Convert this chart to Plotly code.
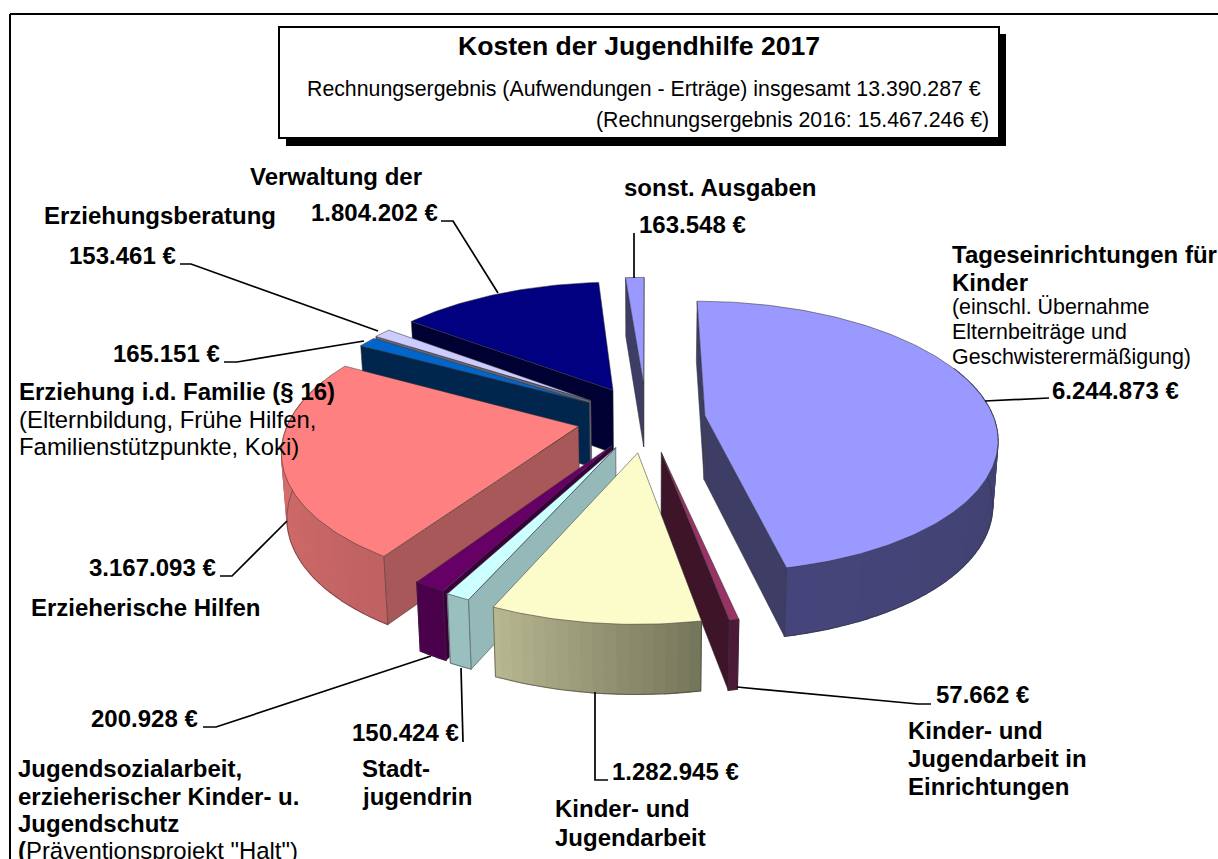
import numpy as np
import plotly.graph_objects as go

# ---- data ----
categories = ["Tageseinrichtungen", "Kinder-/Jugendarbeit in Einrichtungen", "Kinder- und Jugendarbeit",
              "Stadtjugendrin", "Jugendsozialarbeit", "Erzieherische Hilfen",
              "Erziehung i.d. Familie", "Erziehungsberatung", "Verwaltung", "sonst. Ausgaben"]
values = [6244873, 57662, 1282945, 150424, 200928, 3167093, 165151, 153461, 1804202, 163548]

# ---- styles ----
explode = [0.204, 0.25, 0.25, 0.235, 0.23, 0.24, 0.235, 0.24, 0.25, 0.27]
top_colors = ["#9999FF", "#993366", "#FCFCCA", "#CCFFFF", "#660066", "#FF8080", "#0066CC", "#CCCCFF", "#000080", "#9999FF"]
wall_colors = ["#3D3D66", "#3D1428", "#66664F", "#95B8B8", "#3A003A", "#A85858", "#00264D", "#66667A", "#000033", "#3D3D66"]
rim_start = ["#3A3A60", "#4A1A38", "#75755A", "#9ABFBF", "#4A004A", "#C06262", "#00264D", "#66667A", "#000033", "#3D3D66"]
rim_end = ["#46467C", "#4A1A38", "#B8B892", "#9ABFBF", "#4A004A", "#E27474", "#00264D", "#66667A", "#000033", "#3D3D66"]
draw_order = [9, 8, 7, 6, 5, 4, 3, 1, 2, 0]

CX, CY, RX, RY, KP, DEPTH = 646.5, 418.5, 289.0, 133.0, 0.155, 64.0
EDGE = "rgba(50,50,50,0.75)"


def proj(X, Y, bottom=False):
    X, Y = np.asarray(X, float), np.asarray(Y, float)
    s = 1 / (1 + KP * Y)
    x = CX + RX * X * s
    y = CY - RY * Y * s
    if bottom:
        x = CX + (x - CX) * 0.985
        y = y + DEPTH / (1 + 0.07 * Y)
    return x, y


def hex2rgb(h):
    return np.array([int(h[i:i + 2], 16) for i in (1, 3, 5)], float)


def mix(a, b, t):
    c = hex2rgb(a) * (1 - t) + hex2rgb(b) * t
    return "rgb(%d,%d,%d)" % tuple(c)


fig = go.Figure()


def poly(x, y, fill, line=None, width=0.7):
    fig.add_trace(go.Scatter(x=list(x) + [x[0]], y=list(y) + [y[0]], mode="lines", fill="toself",
                             fillcolor=fill, line=dict(color=line or fill, width=width if line else 1.2),
                             hoverinfo="skip", showlegend=False))


def stroke(x, y, color=EDGE, width=0.7):
    fig.add_trace(go.Scatter(x=list(x), y=list(y), mode="lines", line=dict(color=color, width=width),
                             hoverinfo="skip", showlegend=False))


total = sum(values)
cum = np.cumsum([0] + values) / total * 2 * np.pi
for i in draw_order:
    a0, a1 = cum[i], cum[i + 1]
    mid = (a0 + a1) / 2
    ax, ay = explode[i] * np.sin(mid), explode[i] * np.cos(mid)
    th = np.linspace(a0, a1, max(2, int(np.degrees(a1 - a0)) + 2))
    rx, ry = ax + np.sin(th), ay + np.cos(th)
    tx, ty = proj(rx, ry)
    bx, by = proj(rx, ry, True)
    apx, apy = proj(ax, ay)
    abx, aby = proj(ax, ay, True)
    # radial walls: only the one that hangs outside the top face
    for k, o in ((0, -1), (-1, 0)):
        ex, ey = tx[k] - apx, ty[k] - apy
        ox, oy = tx[o] - apx, ty[o] - apy
        side_top = ex * oy - ey * ox
        side_down = ex * 1 - ey * 0
        if side_top * side_down < 0:
            poly([apx, tx[k], bx[k], abx], [apy, ty[k], by[k], aby], wall_colors[i], EDGE)
    # outer wall as shaded strips
    step = 2
    n = len(th)
    for j in range(0, n - 1, step):
        e = min(j + step, n - 1)
        if np.cos(th[j]) > 0.35 and np.cos(th[e]) > 0.35:
            continue
        idx = np.arange(j, e + 1)
        t = (j + e) / 2 / max(n - 1, 1)
        poly(list(tx[idx]) + list(bx[idx][::-1]), list(ty[idx]) + list(by[idx][::-1]),
             mix(rim_start[i], rim_end[i], t))
    front = np.cos(th) < 0.35
    if front.any():
        stroke(bx[front], by[front])
    for k in (0, -1):
        if np.cos(th[k]) < 0.35:
            stroke([tx[k], bx[k]], [ty[k], by[k]])
    # top face
    poly([apx] + list(tx), [apy] + list(ty), top_colors[i], EDGE)


def euro(v):
    return f"{v:,}".replace(",", ".") + " €"


BOLD, REG, SUB, SMALL = 24.0, 23.9, 21.3, 21.4
texts = [
    ("Kosten der Jugendhilfe 2017", 639, 47, 26.6, True, "center"),
    ("Rechnungsergebnis (Aufwendungen - Erträge) insgesamt " + euro(13390287), 307, 90, SUB, False, "left"),
    ("(Rechnungsergebnis 2016: " + euro(15467246) + ")", 989, 121, SUB, False, "right"),
    ("Verwaltung der", 250, 177, BOLD, True, "left"),
    (euro(values[8]), 311, 213, BOLD, True, "left"),
    ("Erziehungsberatung", 44, 216, BOLD, True, "left"),
    (euro(values[7]), 69, 256, BOLD, True, "left"),
    (euro(values[6]), 113, 354, BOLD, True, "left"),
    ("Erziehung i.d. Familie (§ 16)", 19, 392, BOLD, True, "left"),
    ("(Elternbildung, Frühe Hilfen,", 19, 420, REG, False, "left"),
    ("Familienstützpunkte, Koki)", 19, 447, REG, False, "left"),
    ("sonst. Ausgaben", 624, 188, BOLD, True, "left"),
    (euro(values[9]), 639, 225, BOLD, True, "left"),
    ("Tageseinrichtungen für", 952, 255, BOLD, True, "left"),
    ("Kinder", 952, 283, BOLD, True, "left"),
    ("(einschl. Übernahme", 952, 308, SMALL, False, "left"),
    ("Elternbeiträge und", 952, 333, SMALL, False, "left"),
    ("Geschwisterermäßigung)", 952, 358, SMALL, False, "left"),
    (euro(values[0]), 1052, 391, BOLD, True, "left"),
    (euro(values[5]), 89, 568, BOLD, True, "left"),
    ("Erzieherische Hilfen", 31, 608, BOLD, True, "left"),
    (euro(values[4]), 91, 719, BOLD, True, "left"),
    ("Jugendsozialarbeit,", 18, 769, BOLD, True, "left"),
    ("erzieherischer Kinder- u.", 18, 797, BOLD, True, "left"),
    ("Jugendschutz", 18, 824, BOLD, True, "left"),
    ("<b>(</b>Präventionsprojekt \"Halt\")", 18, 851, REG, False, "left"),
    (euro(values[3]), 352, 733, BOLD, True, "left"),
    ("Stadt-", 362, 769, BOLD, True, "left"),
    ("jugendrin", 362, 797, BOLD, True, "left"),
    (euro(values[2]), 612, 772, BOLD, True, "left"),
    ("Kinder- und", 555, 809, BOLD, True, "left"),
    ("Jugendarbeit", 555, 838, BOLD, True, "left"),
    (euro(values[1]), 936, 695, BOLD, True, "left"),
    ("Kinder- und", 908, 731, BOLD, True, "left"),
    ("Jugendarbeit in", 908, 759, BOLD, True, "left"),
    ("Einrichtungen", 908, 787, BOLD, True, "left"),
]
annotations = [dict(x=x, y=y - 0.8, xref="x", yref="y", text=f"<b>{t}</b>" if b else t, showarrow=False,
                    xanchor=anc, yanchor="middle", font=dict(family="Liberation Sans", size=s, color="black"),
                    borderpad=0, borderwidth=0)
               for t, x, y, s, b, anc in texts]

leaders = [
    [(441, 221), (453, 221), (498, 293)],
    [(180, 264), (191, 264), (378, 331)],
    [(224, 362), (237, 362), (364, 341)],
    [(634, 233), (634, 278)],
    [(985, 401), (1049, 398)],
    [(220, 576), (232, 576), (287, 521)],
    [(203, 727), (216, 727), (431, 656)],
    [(463, 742), (461, 668)],
    [(595, 692), (595, 780), (608, 780)],
    [(737, 687), (918, 704), (931, 704)],
]
shapes = [dict(type="path", xref="x", yref="y", line=dict(color="black", width=1.7),
               path="M " + " L ".join(f"{a} {b}" for a, b in pts)) for pts in leaders]
shapes += [
    dict(type="line", xref="x", yref="y", x0=10, x1=1218, y0=14, y1=14, line=dict(color="black", width=2)),
    dict(type="line", xref="x", yref="y", x0=10, x1=10, y0=14, y1=859, line=dict(color="black", width=2)),
    dict(type="rect", xref="x", yref="y", x0=286, x1=1006, y0=34, y1=146, fillcolor="black", line=dict(width=0)),
    dict(type="rect", xref="x", yref="y", x0=279, x1=999, y0=27, y1=138, fillcolor="white",
         line=dict(color="black", width=2)),
]

fig.update_layout(
    width=1218, height=859, autosize=False, margin=dict(l=0, r=0, t=0, b=0),
    paper_bgcolor="white", plot_bgcolor="white", showlegend=False,
    xaxis=dict(range=[0, 1218], visible=False, fixedrange=True),
    yaxis=dict(range=[859, 0], visible=False, fixedrange=True),
    shapes=shapes, annotations=annotations,
)
for s in fig.layout.shapes:
    s.layer = "above"
fig.write_html("out.html", post_script="document.body.style.margin='0';", config=dict(displayModeBar=False))
